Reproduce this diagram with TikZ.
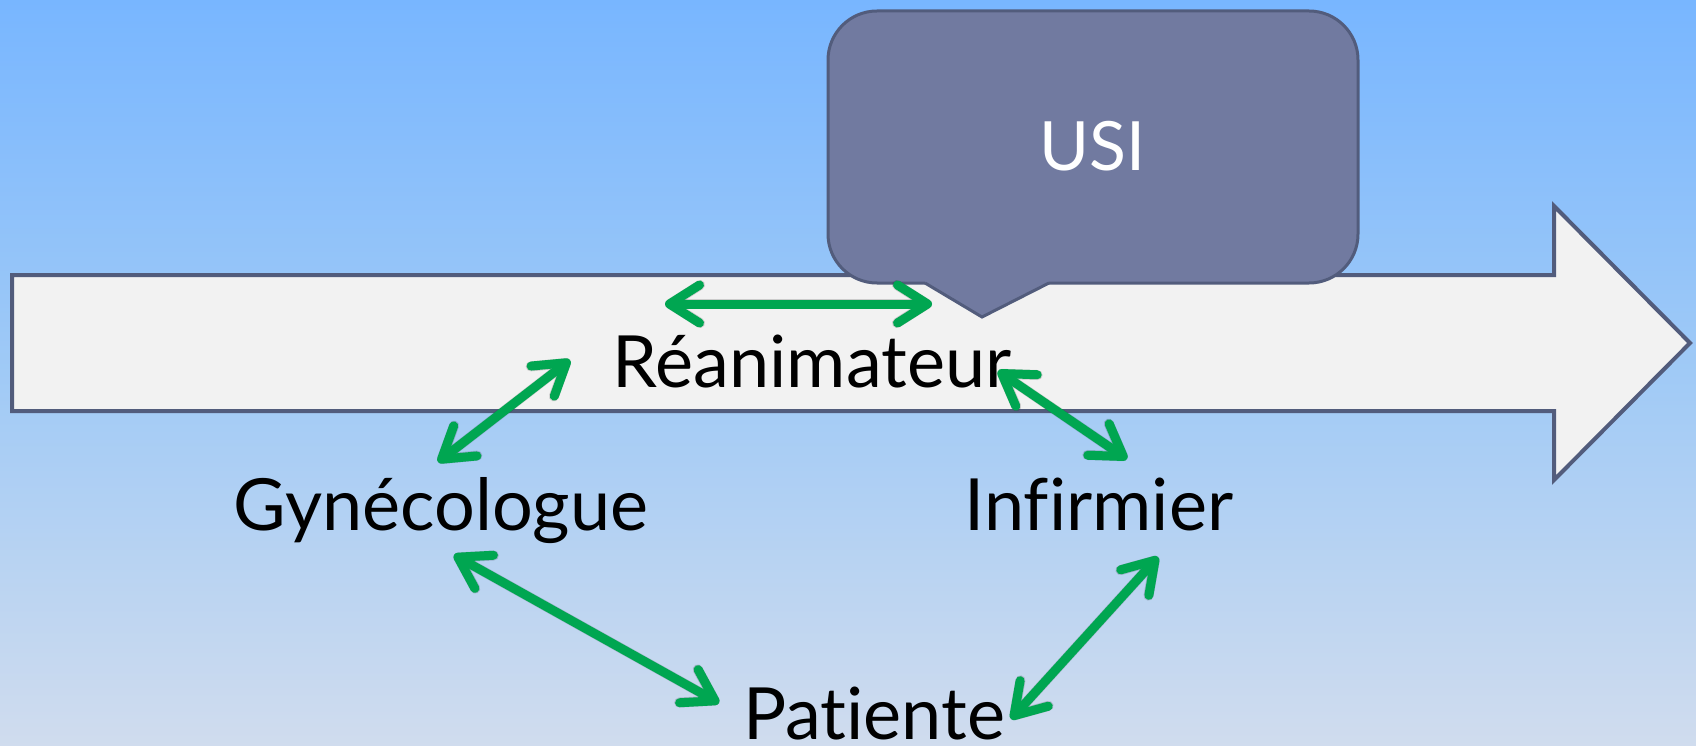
\documentclass[tikz,border=0pt]{standalone}
\usepackage{fontspec}
\setmainfont{Lato}[Ligatures={NoCommon}]
\usetikzlibrary{arrows.meta}
\definecolor{bgtop}{RGB}{120,182,255}
\definecolor{bgmid}{RGB}{160,202,246}
\definecolor{bgbot}{RGB}{208,220,238}
\definecolor{arrfill}{RGB}{242,242,242}
\definecolor{edge}{RGB}{82,92,124}
\definecolor{callfill}{RGB}{113,122,160}
\definecolor{grn}{RGB}{0,166,81}
\tikzset{
  bigarrow/.style={fill=arrfill,draw=edge,line width=4pt,line join=miter},
  callbox/.style={fill=callfill,draw=edge,line width=3pt},
  link/.style={draw=grn,line width=9pt,line cap=round,
    {Straight Barb[length=30pt,width=38pt,round]}-{Straight Barb[length=30pt,width=38pt,round]}},
  linkshadow/.style={draw=black,opacity=0.16,line width=10pt,line cap=round,
    {Straight Barb[length=30pt,width=38pt,round]}-{Straight Barb[length=30pt,width=38pt,round]}},
  lbl/.style={anchor=base,inner sep=0pt,font=\fontsize{72}{72}\selectfont},
  usi/.style={anchor=base,inner sep=0pt,text=white,font=\fontsize{68}{68}\selectfont}
}
\begin{document}
\begin{tikzpicture}[x=1pt,y=-1pt]
\useasboundingbox (0,0) rectangle (1696,746);
\shade[top color=bgtop,bottom color=bgbot,middle color=bgmid] (0,0) rectangle (1696,746);
% big arrow
\draw[bigarrow] (12,275) -- (1554,275) -- (1554,206) -- (1690,343) -- (1554,480) -- (1554,411) -- (12,411) -- cycle;
% callout
\draw[callbox,rounded corners=49pt] (828,11) rectangle (1358,283);
\fill[callfill] (925,283) -- (982,317) -- (1049,283) -- (1049,278) -- (925,278) -- cycle;
\draw[edge,line width=3pt,line join=miter] (925,283) -- (982,317) -- (1049,283);
\node[usi] (usi) at (1092,171) {USI};
% labels
\node[lbl] (rea) at (812,387) {Réanimateur};
\node[lbl] (gyn) at (441,530) {Gynécologue};
\node[lbl] (inf) at (1099,530) {Infirmier};
\node[lbl] (pat) at (874,739) {Patiente};
% link end points
\coordinate (a1) at (665,304); \coordinate (a2) at (932,304);
\coordinate (b1) at (570,360); \coordinate (b2) at (438,462);
\coordinate (c1) at (998,371); \coordinate (c2) at (1127,459);
\coordinate (d1) at (454,555); \coordinate (d2) at (719,703);
\coordinate (e1) at (1158,557); \coordinate (e2) at (1011,719);
\begin{scope}[shift={(3,6)}]
\foreach \p/\q in {a1/a2,b1/b2,c1/c2,d1/d2,e1/e2}
  \draw[linkshadow] (\p) -- (\q);
\end{scope}
\foreach \p/\q in {a1/a2,b1/b2,c1/c2,d1/d2,e1/e2}
  \draw[link] (\p) -- (\q);
\end{tikzpicture}
\end{document}
